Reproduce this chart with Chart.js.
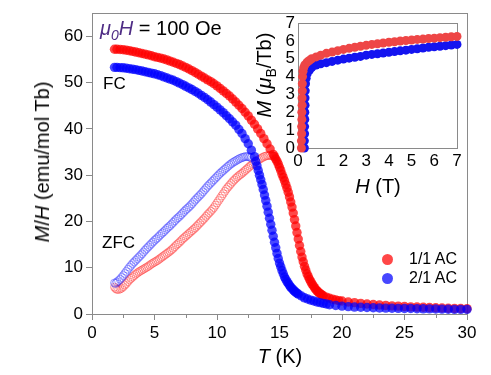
<!DOCTYPE html>
<html><head><meta charset="utf-8">
<script src="https://cdn.jsdelivr.net/npm/chart.js@4.4.0/dist/chart.umd.min.js"></script>
<style>
html,body{margin:0;padding:0;background:#fff;}
#wrap{position:relative;width:491px;height:375px;font-family:"Liberation Sans",Arial,sans-serif;color:#000;overflow:hidden;}
canvas{position:absolute;left:0;top:0;}
.t{position:absolute;white-space:nowrap;line-height:1;}
.dot{position:absolute;border-radius:50%;}
</style></head><body>
<div id="wrap">
<canvas id="main" width="491" height="375"></canvas>
<canvas id="inset" width="230" height="200" style="left:250px;top:0px"></canvas>
<div class="t" style="left:42px;top:162px;font-size:20px;transform:translate(-50%,-50%) rotate(-90deg)"><i>M</i>/<i>H</i> (emu/mol Tb)</div>
<div class="t" style="left:280px;top:356px;font-size:20px;transform:translate(-50%,-50%)"><i>T</i> (K)</div>
<div class="t" style="left:100px;top:28px;font-size:20px;transform:translateY(-50%)"><span style="color:#4f2d85"><i>μ</i><i style="font-size:14px;position:relative;top:5px">0</i><i>H</i></span> = 100 Oe</div>
<div class="t" style="left:103px;top:83px;font-size:17px;transform:translateY(-50%)">FC</div>
<div class="t" style="left:102px;top:242px;font-size:17px;transform:translateY(-50%)">ZFC</div>
<div class="t" style="left:264px;top:75px;font-size:20px;transform:translate(-50%,-50%) rotate(-90deg)"><i>M</i> (<i>μ</i><span style="font-size:14px;position:relative;top:5px">B</span>/Tb)</div>
<div class="t" style="left:378px;top:186px;font-size:20px;transform:translate(-50%,-50%)"><i>H</i> (T)</div>
<div class="dot" style="left:381.5px;top:253.5px;width:11px;height:11px;background:rgba(255,0,0,0.72)"></div>
<div class="dot" style="left:381.5px;top:272.5px;width:11px;height:11px;background:rgba(0,0,255,0.72)"></div>
<div class="t" style="left:409px;top:259px;font-size:16px;transform:translateY(-50%)">1/1 AC</div>
<div class="t" style="left:409px;top:278px;font-size:16px;transform:translateY(-50%)">2/1 AC</div>
</div>
<script>
// ---- main panel: M/H vs T ----
const fcT21 = [1.8,2,2.25,2.5,2.75,3,3.25,3.5,3.75,4,4.25,4.5,4.75,5,5.25,5.5,5.75,6,6.25,6.5,6.75,7,7.25,7.5,7.75,8,8.25,8.5,8.75,9,9.25,9.5,9.75,10,10.25,10.5,10.75,11,11.25,11.5,11.75,12,12.25,12.5,12.75,13,
13.1,13.2,13.3,13.4,13.5,13.6,13.7,13.8,13.9,14,14.1,14.2,14.3,14.4,14.5,14.6,14.7,14.8,14.9,15,15.1,15.2,15.3,15.4,15.5,15.6,15.7,15.8,15.9,16,16.1,16.2,16.3,16.4,16.5,
16.75,17,17.25,17.5,17.75,18,18.25,18.5,18.75,19,
19.5,20,20.5,21,21.5,22,22.5,23,23.5,24,24.5,25,25.5,26,26.5,27,27.5,28,28.5,29,29.5,30];
const fcM21 = [53.3,53.3,53.25,53.2,53.1,53.0,52.9,52.8,52.65,52.5,52.35,52.2,52.05,51.9,51.7,51.5,51.25,51.0,50.75,50.5,50.2,49.9,49.55,49.2,48.85,48.5,48.1,47.7,47.25,46.8,46.3,45.8,45.25,44.7,44.1,43.5,42.85,42.2,41.5,40.8,39.9,39.0,37.9,36.8,35.4,34.0,
33.0,32.0,31.0,30.0,29.0,28.0,26.9,25.7,24.5,23.3,22.0,20.7,19.4,18.1,16.8,15.5,14.3,13.1,12.0,11.0,10.2,9.4,8.7,8.0,7.5,7.0,6.6,6.2,5.8,5.5,5.2,4.95,4.7,4.5,4.3,
3.9,3.5,3.25,3.0,2.8,2.6,2.45,2.3,2.15,2.0,
1.85,1.7,1.6,1.5,1.45,1.4,1.35,1.3,1.28,1.25,1.22,1.2,1.18,1.15,1.12,1.1,1.08,1.05,1.03,1.0,1.0,1.0];

const fcT11 = [1.8,2,2.25,2.5,2.75,3,3.25,3.5,3.75,4,4.25,4.5,4.75,5,5.25,5.5,5.75,6,6.25,6.5,6.75,7,7.25,7.5,7.75,8,8.25,8.5,8.75,9,9.25,9.5,9.75,10,10.25,10.5,10.75,11,11.25,11.5,11.75,12,12.25,12.5,12.75,13,13.25,13.5,13.75,14,14.25,14.5,
14.6,14.7,14.8,14.9,15,15.1,15.2,15.3,15.4,15.5,15.6,15.7,15.8,15.9,16,16.1,16.2,16.3,16.4,16.5,16.6,16.7,16.8,16.9,17,17.1,17.2,17.3,17.4,17.5,17.6,17.7,17.8,17.9,18,18.1,18.2,18.3,18.4,18.5,
18.75,19,19.25,19.5,19.75,20,
20.5,21,21.5,22,22.5,23,23.5,24,24.5,25,25.5,26,26.5,27,27.5,28,28.5,29,29.5,30];
const fcM11 = [57.2,57.2,57.15,57.1,57.0,56.9,56.75,56.6,56.45,56.3,56.15,56.0,55.8,55.6,55.45,55.3,55.1,54.9,54.65,54.4,54.15,53.9,53.6,53.3,52.95,52.6,52.2,51.8,51.4,51.0,50.6,50.2,49.75,49.3,48.75,48.2,47.65,47.1,46.45,45.8,45.1,44.4,43.6,42.8,41.9,41.0,40.0,39.0,37.9,36.8,35.65,34.5,
34.0,33.5,33.0,32.4,31.7,31.0,30.2,29.5,28.8,28.0,27.2,26.3,25.3,24.2,23.1,21.8,20.4,19.0,17.6,16.2,14.8,13.5,12.3,11.3,10.3,9.5,8.7,8.1,7.5,7.0,6.5,6.1,5.7,5.3,5.0,4.75,4.5,4.3,4.1,3.95,
3.65,3.4,3.2,3.05,2.9,2.8,
2.6,2.45,2.3,2.15,2.05,1.95,1.85,1.75,1.7,1.62,1.55,1.5,1.45,1.4,1.35,1.3,1.25,1.2,1.18,1.15];

const zfcT = [1.8,1.9,2.0,
2.125,2.25,2.375,2.5,2.625,2.75,2.875,3.0,
3.125,3.25,3.375,3.5,3.625,3.75,3.875,4.0,
4.125,4.25,4.375,4.5,4.625,4.75,4.875,5.0,
5.125,5.25,5.375,5.5,5.625,5.75,5.875,6.0,
6.125,6.25,6.375,6.5,6.625,6.75,6.875,7.0,
7.125,7.25,7.375,7.5,7.625,7.75,7.875,8.0,
8.125,8.25,8.375,8.5,8.625,8.75,8.875,9.0,
9.125,9.25,9.375,9.5,9.625,9.75,9.875,10.0,
10.125,10.25,10.375,10.5,10.625,10.75,10.875,11.0,
11.125,11.25,11.375,11.5,11.625,11.75,11.875,12.0,
12.125,12.25,12.375,12.5,12.625,12.75,12.875,13.0,
13.125,13.25,13.375,13.5,13.625,13.75,13.875,14.0,
14.125,14.25,14.375,14.5];
const zfcM11 = [5.8,5.5,5.3,
5.3,5.4,5.6,5.9,6.25,6.6,7.0,7.4,
7.7,8.0,8.3,8.6,8.85,9.1,9.3,9.5,
9.7,9.9,10.1,10.3,10.55,10.8,11.0,11.2,
11.4,11.6,11.85,12.1,12.35,12.6,12.85,13.1,
13.35,13.6,13.9,14.2,14.55,14.9,15.2,15.5,
15.85,16.2,16.5,16.8,17.1,17.4,17.7,18.0,
18.3,18.6,18.95,19.3,19.65,20.0,20.35,20.7,
21.1,21.5,21.85,22.2,22.6,23.0,23.5,24.0,
24.5,25.0,25.5,26.0,26.5,27.0,27.4,27.8,
28.2,28.6,28.95,29.3,29.6,29.9,30.15,30.4,
30.7,31.0,31.3,31.6,31.9,32.2,32.45,32.7,
32.95,33.2,33.4,33.6,33.8,34.0,34.1,34.2,
34.25,34.3,34.2,34.1];
const zfcM21 = [6.7,6.6,6.9,
7.2,7.5,7.9,8.3,8.75,9.2,9.65,10.1,
10.5,10.9,11.25,11.6,11.95,12.3,12.65,13.0,
13.4,13.8,14.15,14.5,14.85,15.2,15.55,15.9,
16.2,16.5,16.85,17.2,17.5,17.8,18.15,18.5,
18.8,19.1,19.45,19.8,20.15,20.5,20.8,21.1,
21.45,21.8,22.15,22.5,22.8,23.1,23.45,23.8,
24.2,24.6,24.95,25.3,25.65,26.0,26.4,26.8,
27.2,27.6,27.95,28.3,28.65,29.0,29.35,29.7,
30.05,30.4,30.7,31.0,31.3,31.6,31.9,32.2,
32.45,32.7,32.9,33.1,33.3,33.5,33.65,33.8,
33.9,34.0,34.05,34.0,33.9,33.8];

// ---- inset: M vs H ----
const hRed = [0.15,0.15,0.16,0.16,0.17,0.17,0.18,0.18,0.19,0.19,0.2,0.22,0.25,0.3,0.4,0.5,0.6,0.8,1.0,1.25,1.5,1.75,2.0,2.25,2.5,2.75,3.0,3.25,3.5,3.75,4.0,4.25,4.5,4.75,5.0,5.25,5.5,5.75,6.0,6.25,6.5,6.75,7.0];
const mRed = [0,0.4,0.8,1.2,1.6,2.0,2.4,2.8,3.2,3.6,4.0,4.3,4.5,4.65,4.8,4.9,5.0,5.1,5.2,5.3,5.37,5.45,5.52,5.58,5.64,5.7,5.75,5.8,5.84,5.88,5.92,5.95,5.99,6.02,6.05,6.08,6.1,6.13,6.15,6.18,6.2,6.23,6.25];
const hBlue = [0.28,0.28,0.29,0.29,0.3,0.3,0.31,0.31,0.32,0.33,0.36,0.4,0.5,0.6,0.8,1.0,1.25,1.5,1.75,2.0,2.25,2.5,2.75,3.0,3.25,3.5,3.75,4.0,4.25,4.5,4.75,5.0,5.25,5.5,5.75,6.0,6.25,6.5,6.75,7.0];
const mBlue = [0,0.4,0.8,1.2,1.6,2.0,2.4,2.8,3.2,3.6,3.9,4.15,4.35,4.5,4.65,4.72,4.78,4.85,4.92,4.98,5.03,5.08,5.13,5.2,5.24,5.28,5.32,5.36,5.4,5.44,5.48,5.52,5.56,5.6,5.64,5.67,5.7,5.73,5.77,5.8];

const mainXTicks = [0,5,10,15,20,25,30];
const mainYTicks = [0,10,20,30,40,50,60];
const insetTicks = [0,1,2,3,4,5,6,7];

function pts(xs, ys){ const n=Math.min(xs.length, ys.length); const a=[]; for(let i=0;i<n;i++) a.push({x:xs[i], y:ys[i]}); return a; }

const FONT = '"Liberation Sans", Arial, sans-serif';
const AXIS = '#8a8a8a';

const frame = {
  id:'frame',
  beforeDatasetsDraw(chart){
    const {ctx, chartArea:a} = chart;
    ctx.save(); ctx.strokeStyle = AXIS; ctx.lineWidth = 1;
    ctx.strokeRect(Math.round(a.left)+0.5, Math.round(a.top)+0.5, Math.round(a.right-a.left), Math.round(a.bottom-a.top));
    ctx.restore();
  }
};
const minorTicks = {
  id:'minorTicks',
  beforeDatasetsDraw(chart){
    const {ctx, chartArea:a, scales} = chart;
    ctx.save(); ctx.strokeStyle = AXIS; ctx.lineWidth = 1;
    for (let i=0;i<mainXTicks.length-1;i++){
      const v = (mainXTicks[i]+mainXTicks[i+1])/2;
      const px = Math.round(scales.x.getPixelForValue(v))+0.5;
      ctx.beginPath(); ctx.moveTo(px, a.bottom); ctx.lineTo(px, a.bottom+4); ctx.stroke();
    }
    ctx.restore();
  }
};

function baseScale(min, max, ticks, fit){
  return {
    type:'linear', min, max,
    afterBuildTicks(s){ s.ticks = ticks.map(v=>({value:v})); },
    afterFit: fit,
    ticks:{color:'#000', font:{family:FONT, size:17}, padding:3, maxRotation:0, autoSkip:false},
    grid:{drawOnChartArea:false, drawTicks:true, tickLength:6, color:AXIS},
    border:{color:AXIS}
  };
}

new Chart(document.getElementById('main'), {
  type:'scatter',
  data:{datasets:[
    {label:'2/1 AC FC', data:pts(fcT21, fcM21), backgroundColor:'rgba(0,0,255,0.72)', borderWidth:0, pointRadius:4.7, clip:false},
    {label:'1/1 AC FC', data:pts(fcT11, fcM11), backgroundColor:'rgba(255,0,0,0.72)', borderWidth:0, pointRadius:4.7, clip:false},
    {label:'2/1 AC ZFC', data:pts(zfcT, zfcM21), backgroundColor:'rgba(0,0,0,0)', borderColor:'rgba(50,50,255,0.5)', borderWidth:0.9, pointRadius:4, clip:false},
    {label:'1/1 AC ZFC', data:pts(zfcT, zfcM11), backgroundColor:'rgba(0,0,0,0)', borderColor:'rgba(255,50,50,0.5)', borderWidth:0.9, pointRadius:4, clip:false}
  ]},
  options:{
    responsive:false, animation:false, events:[],
    layout:{padding:{top:13, right:24, left:0, bottom:0}},
    plugins:{legend:{display:false}, tooltip:{enabled:false}},
    scales:{
      x: baseScale(0, 30, mainXTicks, s=>{s.height=61;}),
      y: baseScale(0, 65, mainYTicks, s=>{s.width=92;})
    }
  },
  plugins:[frame, minorTicks]
});

const insX = baseScale(0, 7, insetTicks, s=>{s.height=52;});
const insY = baseScale(0, 7, insetTicks, s=>{s.width=48;});
insX.grid.drawTicks = false; insY.grid.drawTicks = false;
new Chart(document.getElementById('inset'), {
  type:'scatter',
  data:{datasets:[
    {label:'1/1 AC', data:pts(hRed, mRed), backgroundColor:'#ee4646', borderWidth:0, pointRadius:4.5, clip:false},
    {label:'2/1 AC', data:pts(hBlue, mBlue), backgroundColor:'#1414f0', borderWidth:0, pointRadius:4.5, clip:false}
  ]},
  options:{
    responsive:false, animation:false, events:[],
    layout:{padding:{top:23, right:23, left:0, bottom:0}},
    plugins:{legend:{display:false}, tooltip:{enabled:false}},
    scales:{x:insX, y:insY}
  },
  plugins:[frame]
});
</script>
</body></html>
